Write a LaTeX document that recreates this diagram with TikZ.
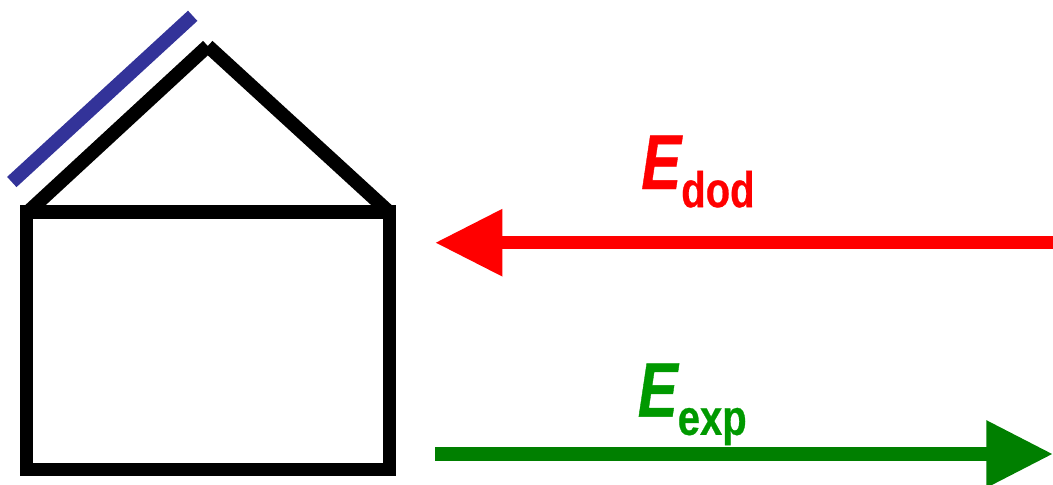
\documentclass[tikz,border=0pt]{standalone}
\usepackage{fontspec}
\setmainfont{Liberation Sans}
\newfontfamily\heavyitalic[FakeBold=0.6]{Liberation Sans Bold Italic}
\newfontfamily\heavysub[FakeBold=0.6]{Liberation Sans Bold}
\usetikzlibrary{arrows.meta}
\definecolor{panelblue}{HTML}{333399}
\definecolor{arrowgreen}{HTML}{007F00}
\definecolor{labelgreen}{HTML}{009900}
\newcommand{\energylabel}[2]{\scalebox{0.81}[1.05]{\fontsize{55.5}{60}\selectfont\heavyitalic E}\hspace{#2}\raisebox{-13.6pt}{\scalebox{0.8}[1]{\fontsize{37.5}{40}\selectfont\heavysub #1}}}
\tikzset{
  house/.style={line width=10.1pt,black,line cap=butt,line join=miter},
  roof/.style={line width=10.4pt,black,line cap=butt},
  panel/.style={line width=10.4pt,panelblue,line cap=butt},
  flowred/.style={line width=10pt,red,-{Triangle[length=50.5pt,width=47.8pt]}},
  flowgreen/.style={line width=10pt,arrowgreen,-{Triangle[length=50pt,width=47.8pt]}},
  energy/.style={inner sep=0pt,anchor=base west}
}
\begin{document}
\begin{tikzpicture}[x=0.75pt,y=-0.75pt]
\useasboundingbox (0,0) rectangle (1053,485);
\clip (0,0) rectangle (1053,485);
\draw[house] (26.7,212) rectangle (389.5,469.5);
\coordinate (apex) at (207.8,46);
\coordinate (eaveL) at (28,212);
\coordinate (eaveR) at (389,212);
\draw[roof] (eaveL) -- (apex);
\draw[roof] (eaveR) -- (apex);
\coordinate (panelA) at (11.8,182);
\coordinate (panelB) at (192.7,15.8);
\draw[panel] (panelA) -- (panelB);
\coordinate (redA) at (1053,242.7);
\coordinate (redB) at (435,242.7);
\draw[flowred] (redA) -- (redB);
\coordinate (greenA) at (435,454);
\coordinate (greenB) at (1053,454);
\draw[flowgreen] (greenA) -- (greenB);
\node[energy,text=red] (edod) at (641,189) {\energylabel{dod}{0pt}};
\node[energy,text=labelgreen] (eexp) at (637.5,416.7) {\energylabel{exp}{0pt}};
\end{tikzpicture}
\end{document}
